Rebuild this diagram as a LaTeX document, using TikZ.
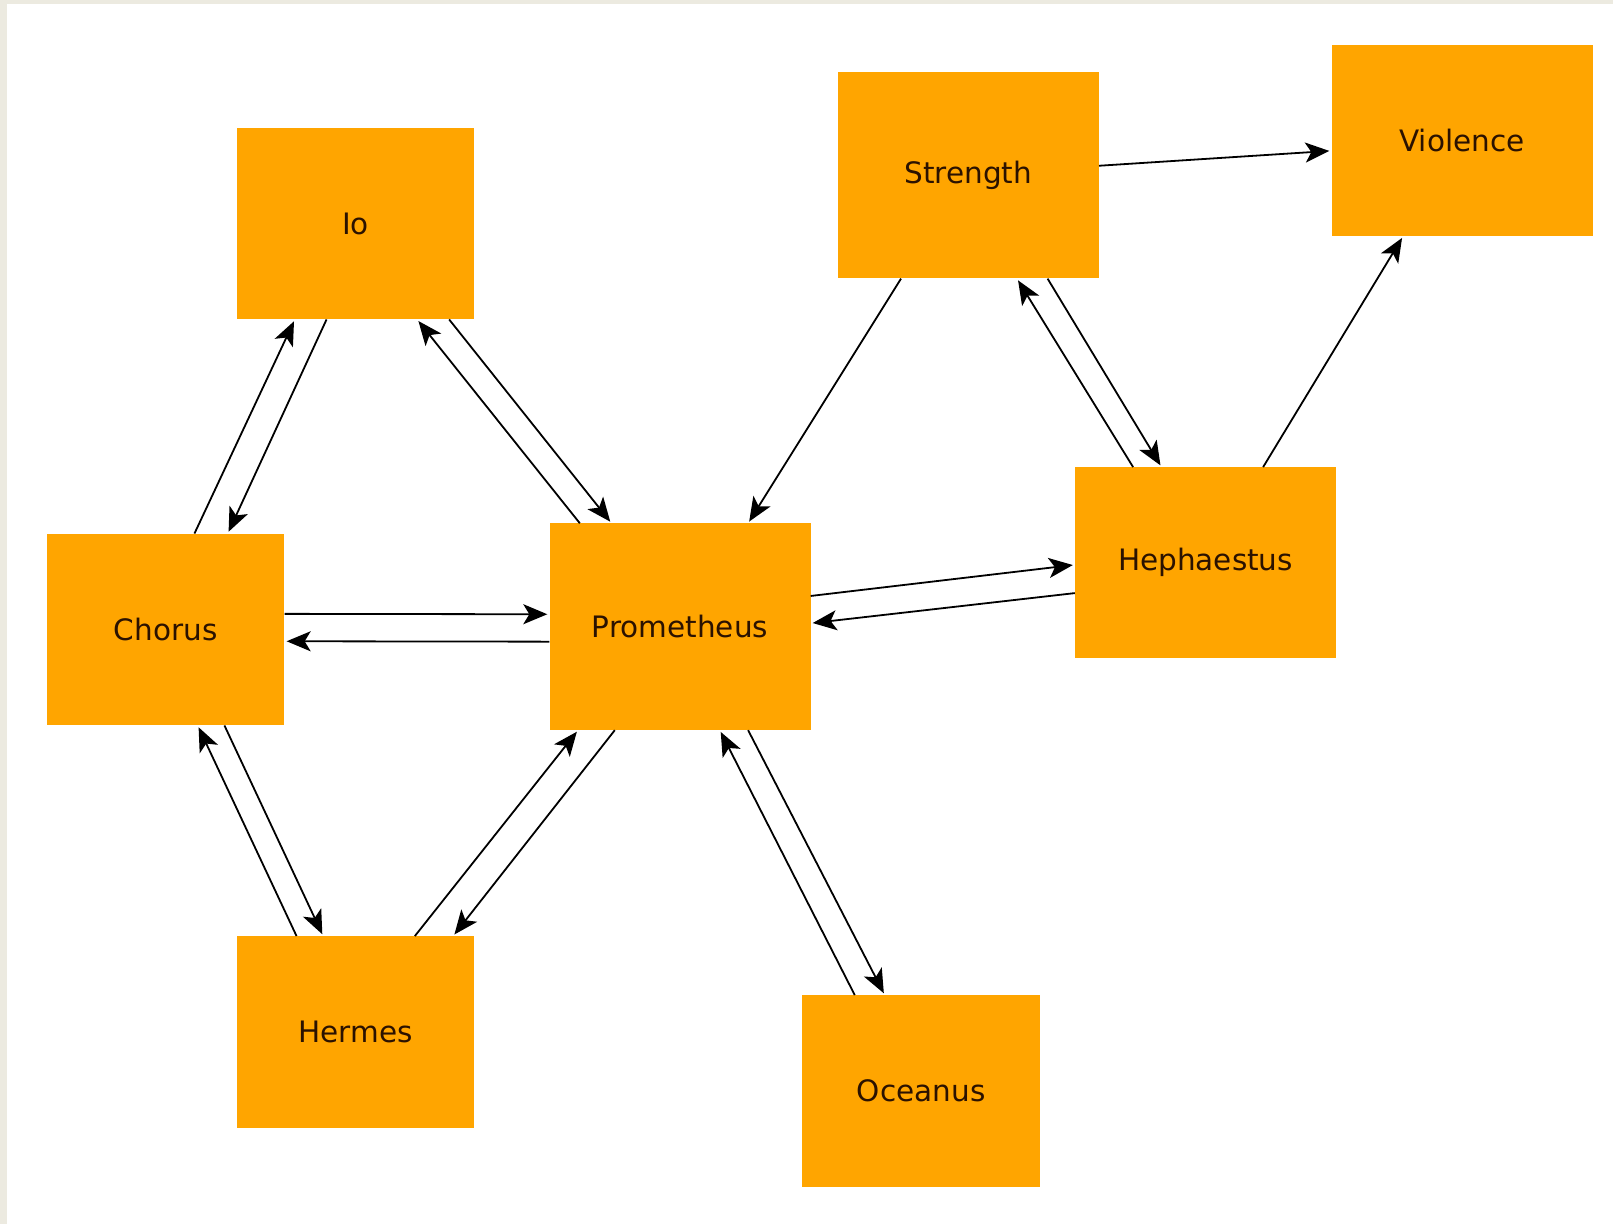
\documentclass[tikz,border=0pt]{standalone}
\usepackage{fontspec}
\setmainfont{DejaVu Sans}
\usetikzlibrary{arrows.meta}
\definecolor{boxfill}{HTML}{FFA500}
\definecolor{boxtext}{HTML}{2B1200}
\definecolor{frame}{HTML}{ECEAE0}
\begin{document}
\begin{tikzpicture}[x=1pt,y=-1pt,
  actor/.style={rectangle,fill=boxfill,draw=none,inner sep=0pt,text=boxtext,
    font=\fontsize{29.5}{34}\selectfont},
  small/.style={actor,minimum width=237.5pt,minimum height=191.5pt},
  wide/.style={actor,minimum width=261pt,minimum height=191pt},
  large/.style={actor,minimum width=261pt,minimum height=206.5pt},
  link/.style={draw=black,line width=1.8pt,
    -{Stealth[length=24pt,width=20pt,inset=6pt]},shorten >=2pt}]
\useasboundingbox (0,0) rectangle (1613,1224);
\fill[frame] (0,0) rectangle (1613,1224);
\fill[white] (7,4) rectangle (1613,1224);

\node[small] (io)   at (355.5,223.5) {\raisebox{-2pt}{Io}};
\node[large] (str)  at (968.3,175.2) {\raisebox{-2pt}{Strength}};
\node[wide]  (vio)  at (1462,140.5) {\raisebox{-2pt}{Violence}};
\node[small] (cho)  at (165.7,629.5) {\raisebox{-2pt}{Chorus}};
\node[large] (pro)  at (680,626.7) {\raisebox{-2pt}{Prometheus}};
\node[wide]  (hep)  at (1205.5,562.8) {\raisebox{-2pt}{Hephaestus}};
\node[small] (her)  at (355.5,1032) {\raisebox{-2pt}{Hermes}};
\node[small] (oce)  at (921.2,1091) {\raisebox{-2pt}{Oceanus}};

% Chorus <-> Io
\draw[link] ([xshift=147.7pt]cho.north west) -- ([xshift=58.3pt]io.south west);
\draw[link] ([xshift=90pt]io.south west) -- ([xshift=181pt]cho.north west);
% Prometheus <-> Io
\draw[link] ([xshift=30.5pt]pro.north west) -- ([xshift=180.6pt]io.south west);
\draw[link] ([xshift=212.6pt]io.south west) -- ([xshift=62.2pt]pro.north west);
% Strength -> Prometheus
\draw[link] ([xshift=63.4pt]str.south west) -- ([xshift=198.8pt]pro.north west);
% Strength -> Violence
\draw[link] ([yshift=-94pt]str.north east) -- ([yshift=-106pt]vio.north west);
% Hephaestus <-> Strength
\draw[link] ([xshift=58.3pt]hep.north west) -- ([xshift=179.4pt]str.south west);
\draw[link] ([xshift=210pt]str.south west) -- ([xshift=86.7pt]hep.north west);
% Hephaestus -> Violence
\draw[link] ([xshift=188.3pt]hep.north west) -- ([xshift=71.8pt]vio.south west);
% Prometheus <-> Hephaestus
\draw[link] ([yshift=-72.7pt]pro.north east) -- ([yshift=-97.7pt]hep.north west);
\draw[link] ([yshift=-126pt]hep.north west) -- ([yshift=-100pt]pro.north east);
% Chorus <-> Prometheus
\draw[link] ([yshift=-80.3pt]cho.north east) -- ([yshift=-91pt]pro.north west);
\draw[link] ([yshift=-118.4pt]pro.north west) -- ([yshift=-107.7pt]cho.north east);
% Hermes <-> Chorus
\draw[link] ([xshift=60pt]her.north west) -- ([xshift=151pt]cho.south west);
\draw[link] ([xshift=177.7pt]cho.south west) -- ([xshift=86.6pt]her.north west);
% Hermes <-> Prometheus
\draw[link] ([xshift=178.3pt]her.north west) -- ([xshift=28.8pt]pro.south west);
\draw[link] ([xshift=65.5pt]pro.south west) -- ([xshift=216.6pt]her.north west);
% Oceanus <-> Prometheus
\draw[link] ([xshift=52.5pt]oce.north west) -- ([xshift=170.5pt]pro.south west);
\draw[link] ([xshift=198.8pt]pro.south west) -- ([xshift=82.5pt]oce.north west);
\end{tikzpicture}
\end{document}
